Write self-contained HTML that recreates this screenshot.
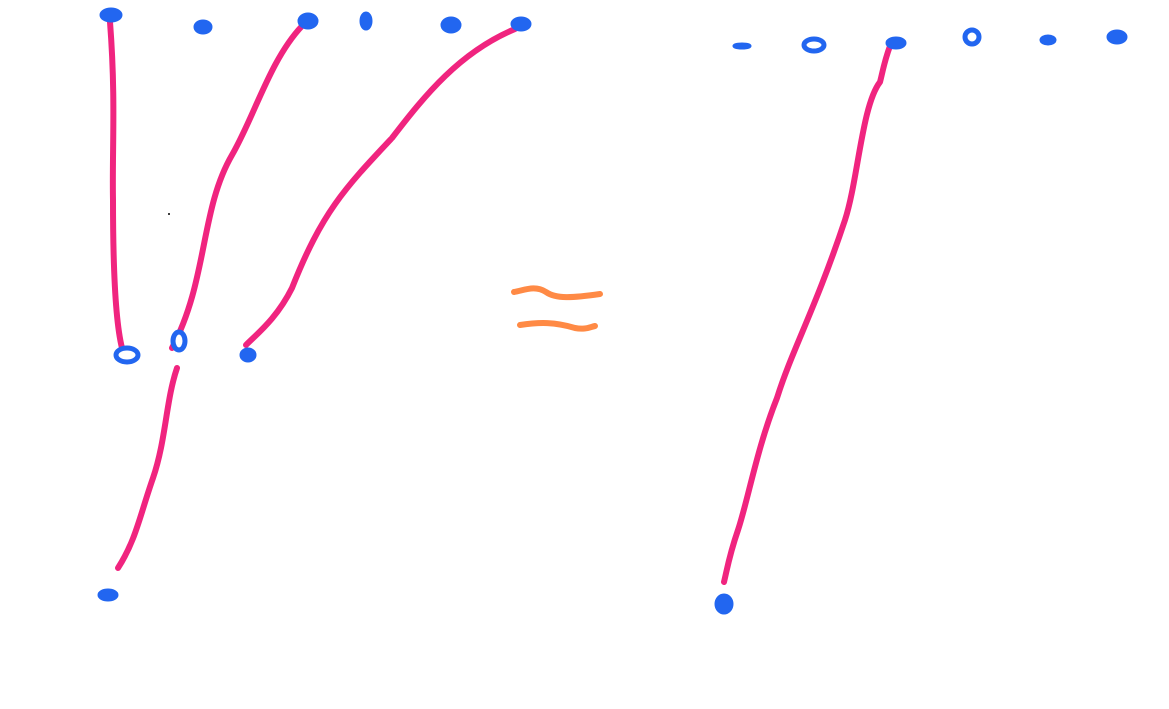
<!DOCTYPE html>
<html><head><meta charset="utf-8"><style>
html,body{margin:0;padding:0;background:#fff;width:1169px;height:709px;overflow:hidden}
</style></head><body>
<svg width="1169" height="709" viewBox="0 0 1169 709" xmlns="http://www.w3.org/2000/svg">
<g fill="none" stroke="#f0247f" stroke-width="6" stroke-linecap="round" stroke-linejoin="round">
<path d="M110,22 C116,100 112,150 113,200 C113,260 115,320 122,348"/>
<path d="M302,26 C270,60 255,115 232,155 C200,210 208,280 172,348"/>
<path d="M515,29 C460,52 425,95 392,138 C345,188 322,212 292,288 C277,318 258,333 246,345"/>
<path d="M177,368 C166,400 166,440 153,478 C140,515 136,540 118,568"/>
<path d="M890,46 C884,62 882,75 880,82 C862,105 858,180 845,220 C815,310 792,350 777,398 C757,448 748,500 738,530 C729,556 727,570 724,582"/>
</g>
<g fill="none" stroke="#ff8a45" stroke-width="6" stroke-linecap="round">
<path d="M514,292 C525,290 535,285 546,292 C556,299 572,298 600,294"/>
<path d="M520,325 C540,322 555,322 575,328 C585,330 590,327 595,326"/>
</g>
<g fill="#2266f0" stroke="#2266f0" stroke-width="3">
<ellipse cx="111" cy="15" rx="10" ry="6"/>
<ellipse cx="203" cy="27" rx="8" ry="6"/>
<ellipse cx="308" cy="21" rx="9" ry="7"/>
<ellipse cx="366" cy="21" rx="5" ry="8"/>
<ellipse cx="451" cy="25" rx="9" ry="7"/>
<ellipse cx="521" cy="24" rx="9" ry="6"/>
<ellipse cx="127" cy="355" rx="11" ry="7" fill="#fff" stroke-width="5"/>
<ellipse cx="179" cy="341" rx="6" ry="9" fill="#fff" stroke-width="5"/>
<ellipse cx="248" cy="355" rx="7" ry="6"/>
<ellipse cx="108" cy="595" rx="9" ry="5"/>
<ellipse cx="742" cy="46" rx="8" ry="2"/>
<ellipse cx="814" cy="45" rx="10" ry="6" fill="#fff" stroke-width="5"/>
<ellipse cx="896" cy="43" rx="9" ry="5"/>
<ellipse cx="972" cy="37" rx="7" ry="7" fill="#fff" stroke-width="5"/>
<ellipse cx="1048" cy="40" rx="7" ry="4"/>
<ellipse cx="1117" cy="37" rx="9" ry="6"/>
<ellipse cx="724" cy="604" rx="8" ry="9"/>
</g>
<circle cx="169" cy="214" r="1" fill="#000"/>
</svg>
</body></html>
